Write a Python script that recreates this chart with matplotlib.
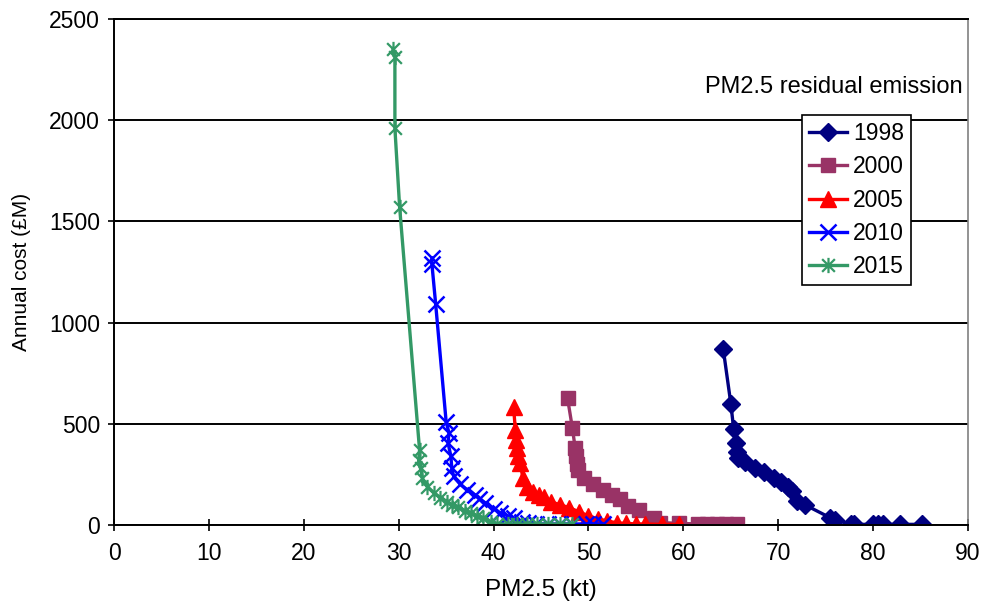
import matplotlib
matplotlib.use("Agg")
import numpy as np
from matplotlib import pyplot as plt
from matplotlib.path import Path

plt.rcParams['font.family'] = ['Liberation Sans', 'DejaVu Sans']

# residual PM2.5 emission (kt) vs annual abatement cost (£M), per scenario year
pm_1998 = [64.2, 65.0, 65.3, 65.5, 65.6, 65.8, 66.5, 67.5, 68.5, 69.5, 70.3, 71.0, 71.5,
           72.0, 72.8, 75.5, 76.0, 77.7, 78.0, 80.0, 80.5, 81.0, 82.8, 85.2]
cost_1998 = [870, 600, 475, 405, 360, 330, 310, 280, 260, 230, 210, 190, 170,
             120, 100, 35, 25, 5, 3, 3, 3, 3, 3, 3]

pm_2000 = [47.8, 48.3, 48.6, 48.7, 48.8, 48.9, 49.5, 50.5, 51.5, 52.5, 53.3, 54.2, 55.3,
           56.9, 57.5, 59.5, 61.5, 62.5, 63.5, 64.5, 65.6]
cost_2000 = [625, 480, 380, 340, 300, 270, 230, 200, 175, 150, 130, 95, 75,
             35, 12, 8, 5, 5, 5, 5, 5]

pm_2005 = [42.1, 42.3, 42.4, 42.5, 42.6, 42.8, 43.1, 43.5, 44.2, 44.8, 45.3, 46.0, 47.0,
           48.0, 49.0, 50.0, 51.0, 52.0, 53.0, 54.0, 55.0, 56.0, 57.7, 59.5]
cost_2005 = [583, 470, 420, 380, 340, 305, 230, 190, 165, 150, 138, 115, 100,
             85, 65, 45, 30, 20, 10, 8, 5, 5, 3, 3]

pm_2010 = [33.5, 33.5, 33.9, 35.0, 35.3, 35.2, 35.5, 35.6, 35.8, 36.5, 37.2, 38.0, 38.5,
           39.1, 40.0, 40.7, 41.5, 42.1, 43.0, 43.6, 44.5, 45.7, 47.0, 48.3, 49.7, 50.5, 51.5]
cost_2010 = [1320, 1290, 1090, 510, 455, 405, 340, 280, 240, 200, 175, 150, 130,
             110, 80, 60, 45, 35, 15, 8, 5, 5, 5, 5, 5, 5, 5]

pm_2015 = [29.4, 29.6, 29.6, 30.1, 32.2, 32.1, 32.3, 32.5, 33.0, 33.7, 34.4, 35.1, 35.6,
           36.2, 37.0, 37.6, 38.3, 38.9, 39.7, 40.4, 41.5, 42.5, 43.5, 44.6, 45.7, 47.0, 48.3]
cost_2015 = [2350, 2310, 1960, 1570, 370, 320, 280, 230, 190, 160, 135, 115, 100,
             90, 70, 58, 45, 35, 15, 5, 5, 5, 5, 5, 5, 5, 5]

years = ['1998', '2000', '2005', '2010', '2015']
x_ticks = np.arange(0, 100, 10)
y_ticks = np.arange(0, 3000, 500)

# star marker: an X with a vertical stroke through it
star = Path([(-1, -1), (1, 1), (-1, 1), (1, -1), (0, -1.2), (0, 1.2)],
            [Path.MOVETO, Path.LINETO, Path.MOVETO, Path.LINETO, Path.MOVETO, Path.LINETO])

fig = plt.figure(figsize=(9.88, 6.14), dpi=100)
ax = fig.add_axes([0.1154, 0.145, 0.8644, 0.824])

series = [
    (pm_1998, cost_1998, '#000080', 'D', 9, {}),
    (pm_2000, cost_2000, '#993366', 's', 10, {}),
    (pm_2005, cost_2005, '#FF0000', '^', 11, {}),
    (pm_2010, cost_2010, '#0000FF', 'x', 11, {'markeredgewidth': 1.8}),
    (pm_2015, cost_2015, '#339966', star, 11, {'markeredgewidth': 1.6}),
]
for (x, y, col, mk, ms, kw), lab in zip(series, years):
    ax.plot(x, y, color=col, lw=2.4, marker=mk, markersize=ms,
            markerfacecolor=col, markeredgecolor=col, label=lab, **kw)

ax.set_xlim(0, 90)
ax.set_ylim(0, 2500)
ax.set_xticks(x_ticks)
ax.set_yticks(y_ticks)
ax.yaxis.grid(True, color='black', lw=1.4)
ax.set_axisbelow(True)
ax.tick_params(axis='both', direction='inout', length=8, width=1.2, labelsize=16.5)
ax.tick_params(axis='x', pad=8)
ax.tick_params(axis='y', pad=6)

for side in ['left', 'bottom', 'top']:
    ax.spines[side].set_color('black')
    ax.spines[side].set_linewidth(1.4)
ax.spines['right'].set_color('#808080')
ax.spines['right'].set_linewidth(1.2)

ax.set_xlabel('PM2.5 (kt)', fontsize=17.5, labelpad=10)
ax.set_ylabel('Annual cost (£M)', fontsize=15, labelpad=13)

ax.text(0.994, 0.866, 'PM2.5 residual emission', transform=ax.transAxes,
        ha='right', va='center', fontsize=17)

leg = ax.legend(loc='upper left', bbox_to_anchor=(0.806, 0.81), fontsize=16.5,
                frameon=True, fancybox=False, framealpha=1, edgecolor='black',
                handlelength=1.65, handletextpad=0.25, borderpad=0.3,
                labelspacing=0.45, borderaxespad=0)
leg.get_frame().set_linewidth(1.2)

fig.savefig('out.png', dpi=100)
